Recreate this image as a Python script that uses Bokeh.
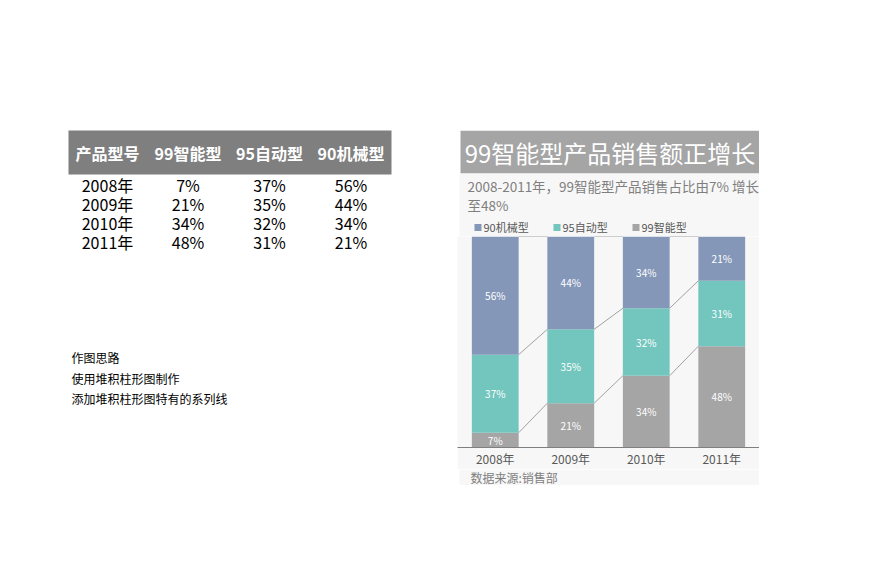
from bokeh.plotting import figure
from bokeh.layouts import row, column
from bokeh.models import Range1d, FactorRange, Spacer, ColumnDataSource
from bokeh.core.properties import value
from bokeh.transform import dodge
from bokeh.embed import file_html
from bokeh.resources import INLINE

# ---------------- data ----------------
years = ["2008年", "2009年", "2010年", "2011年"]
series = ["99智能型", "95自动型", "90机械型"]
smart = [7, 21, 34, 48]     # 99智能型
auto = [37, 35, 32, 31]     # 95自动型
mech = [56, 44, 34, 21]     # 90机械型
colors = ["#A5A5A5", "#73C6BD", "#8497B8"]
header = ["产品型号"] + series
chart_title = "99智能型产品销售额正增长"
subtitle = ["2008-2011年，99智能型产品销售占比由7% 增长", "至48%"]
notes = ["作图思路", "使用堆积柱形图制作", "添加堆积柱形图特有的系列线"]
source_note = "数据来源:销售部"

FONT = "Noto Sans CJK SC"
F = value(FONT)


def canvas(w, h, x0, y0):
    p = figure(width=w, height=h, x_range=Range1d(x0, x0 + w), y_range=Range1d(y0 + h, y0),
               x_axis_location=None, y_axis_location=None, toolbar_location=None,
               output_backend="svg", min_border=0, outline_line_color=None)
    p.grid.visible = False
    p.background_fill_color = "white"
    p.border_fill_color = "white"
    return p


# ---------------- left: table + notes ----------------
L = canvas(457, 428, 0, 0)
L.quad(left=68, right=391, top=130, bottom=174, fill_color="#7F7F7F", line_color=None)
col_x = [107, 187.5, 269, 350.5]
L.text(x=col_x, y=[152] * 4, text=header, text_font=F, text_font_size="16px",
       text_font_style="bold", text_color="white", text_align="center", text_baseline="middle")
rows = list(zip(years, smart, auto, mech))
for i, (yr, a, b, c) in enumerate(rows):
    yy = 184 + 19 * i
    L.text(x=col_x, y=[yy] * 4, text=[yr, f"{a}%", f"{b}%", f"{c}%"], text_font=F,
           text_font_size="16px", text_color="black", text_align="center", text_baseline="middle")
L.text(x=[71] * len(notes), y=[357 + 20.5 * i for i in range(len(notes))], text=notes,
       text_font=F, text_font_size="12px", text_color="black", text_align="left",
       text_baseline="middle")

# ---------------- right: title, subtitle, legend ----------------
H = canvas(302, 106, 457, 130)
H.quad(left=460, right=759, top=130, bottom=173, fill_color="#A5A5A5", line_color=None)
H.quad(left=459, right=759, top=173, bottom=236, fill_color="#F7F7F7", line_color=None)
H.text(x=[609.5], y=[152], text=[chart_title], text_font=F, text_font_size="24px",
       text_color="white", text_align="center", text_baseline="middle")
H.text(x=[467, 467], y=[185, 204], text=subtitle, text_font=F, text_font_size="13.5px",
       text_color="#7F7F7F", text_align="left", text_baseline="middle")
leg_names = series[::-1]
leg_colors = colors[::-1]
H.scatter(x=[477.5 + 79 * i for i in range(3)], y=[227] * 3, marker="square", size=7,
          fill_color=leg_colors, line_color=None)
H.text(x=[483 + 79 * i for i in range(3)], y=[226] * 3, text=leg_names, text_font=F,
       text_font_size="11px", text_color="#595959", text_align="left", text_baseline="middle")

# ---------------- right: stacked bar chart ----------------
src = ColumnDataSource(dict(year=years, **{series[0]: smart, series[1]: auto, series[2]: mech}))
C = figure(frame_width=302, frame_height=211, x_range=FactorRange(*years), y_range=Range1d(0, 100),
           y_axis_location=None, toolbar_location=None, output_backend="svg",
           min_border_left=0, min_border_right=0, min_border_top=0, min_border_bottom=0,
           outline_line_color=None)
C.background_fill_color = "#F7F7F7"
C.border_fill_color = "#F7F7F7"
C.grid.visible = False
C.vbar_stack(series, x="year", width=0.62, color=colors, line_color=None, source=src)

# series lines
cum1 = smart
cum2 = [a + b for a, b in zip(smart, auto)]
cum3 = [a + b + c for a, b, c in zip(smart, auto, mech)]
seg = dict(x0=[], x1=[], y0=[], y1=[])
for cum in (cum1, cum2, cum3):
    for i in range(len(years) - 1):
        seg["x0"].append(years[i]); seg["x1"].append(years[i + 1])
        seg["y0"].append(cum[i]); seg["y1"].append(cum[i + 1])
seg_src = ColumnDataSource(seg)
C.segment(x0=dodge("x0", 0.31, range=C.x_range), x1=dodge("x1", -0.31, range=C.x_range),
          y0="y0", y1="y1", line_color="#8C8C8C", line_width=0.8, source=seg_src)

# data labels
lab = dict(x=[], y=[], t=[])
for vals, base in ((smart, [0] * 4), (auto, smart), (mech, cum2)):
    for i, v in enumerate(vals):
        lab["x"].append(years[i]); lab["y"].append(base[i] + v / 2); lab["t"].append(f"{v}%")
C.text(x="x", y="y", text="t", source=ColumnDataSource(lab), text_font=F,
       text_font_size="10px", text_color="white", text_align="center", text_baseline="middle")

ax = C.xaxis[0]
ax.axis_line_color = "#7F7F7F"
ax.axis_line_width = 1
ax.major_tick_line_color = None
ax.minor_tick_line_color = None
ax.major_tick_in = 0
ax.major_tick_out = 0
ax.major_label_standoff = 2
ax.major_label_text_font = FONT
ax.major_label_text_font_size = "12px"
ax.major_label_text_color = "#595959"

# source note
S = canvas(302, 16, 457, 466)
S.quad(left=459, right=759, top=466, bottom=482, fill_color="#F7F7F7", line_color=None)
S.text(x=[470], y=[474], text=[source_note], text_font=F, text_font_size="12px",
       text_color="#7F7F7F", text_align="left", text_baseline="middle")

right = column(Spacer(width=302, height=130), H, C, S, spacing=0)
layout = row(L, right, spacing=0)

with open("out.html", "w") as f:
    f.write(file_html(layout, INLINE))
